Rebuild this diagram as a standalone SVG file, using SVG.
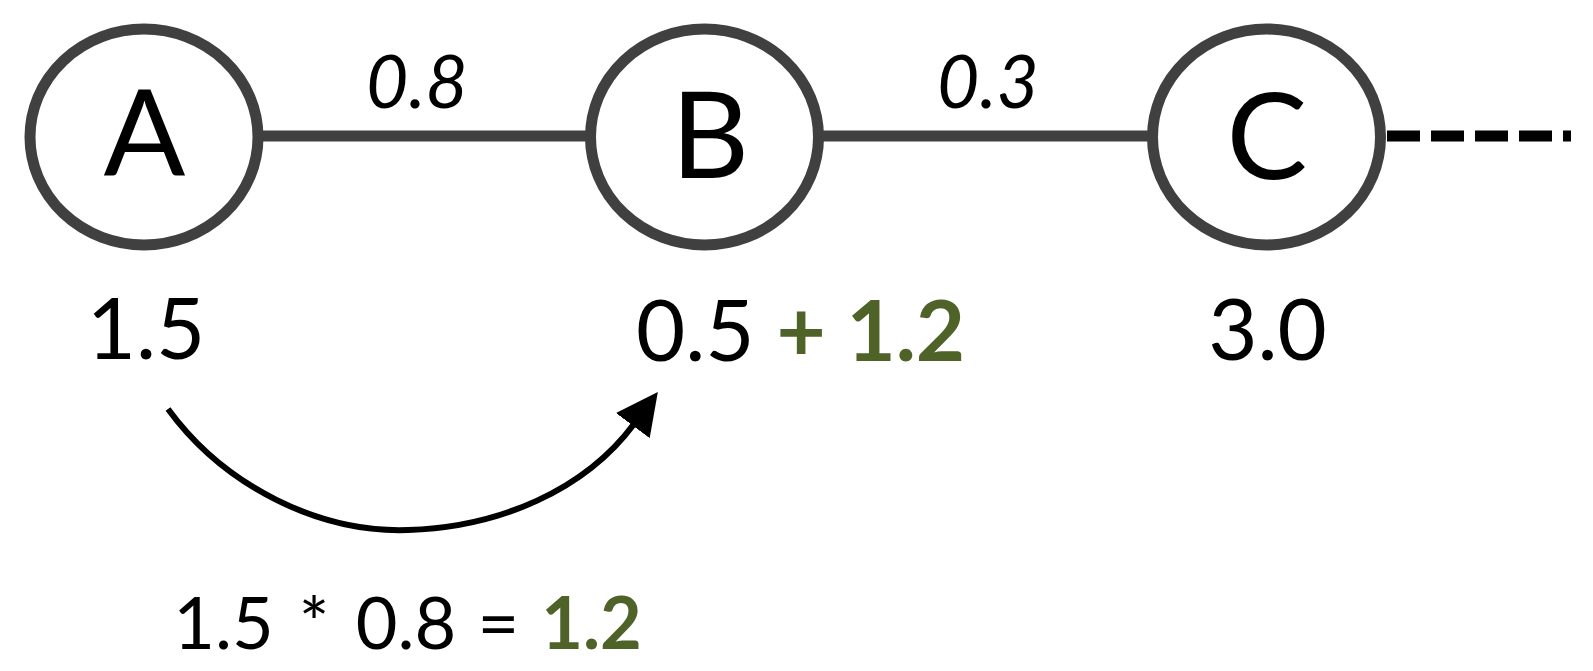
<svg xmlns="http://www.w3.org/2000/svg" width="1593" height="671" viewBox="0 0 1593 671">
<defs>
<style>
.node{fill:#ffffff;stroke:#404040;stroke-width:11}
.edge{stroke:#404040;stroke-width:11;fill:none}
.t{font-family:Lato,"Open Sans",sans-serif;fill:#000000}
.lbl{font-size:121px;text-anchor:middle}
.num{font-size:85px}
.w{font-size:73px;font-style:italic;text-anchor:middle}
.g{fill:#4F6228;font-weight:bold}
</style>
<marker id="ah" viewBox="0 0 42 42" refX="2" refY="21" markerWidth="42" markerHeight="42" markerUnits="userSpaceOnUse" orient="auto">
<path d="M0,0 L42,21 L0,42 z" fill="#000"/>
</marker>
</defs>
<rect width="1593" height="671" fill="#ffffff"/>
<g id="connectors">
<line class="edge" x1="262" y1="136" x2="587" y2="136"/>
<line class="edge" x1="822" y1="136" x2="1148" y2="136"/>
<line x1="1387" y1="136" x2="1571" y2="136" stroke="#000" stroke-width="11" stroke-dasharray="33 11"/>
<path d="M168,409 C225,487 320,533 408,530 C500,527 585,490 634,424" fill="none" stroke="#000" stroke-width="6" marker-end="url(#ah)"/>
</g>
<g id="node-A">
<ellipse class="node" cx="144" cy="137" rx="114" ry="108"/>
<text class="t lbl" x="144.5" y="176">A</text>
</g>
<g id="node-B">
<ellipse class="node" cx="704.5" cy="137" rx="114" ry="108"/>
<text class="t lbl" x="710" y="178">B</text>
</g>
<g id="node-C">
<ellipse class="node" cx="1266.5" cy="137" rx="114" ry="108"/>
<text class="t lbl" x="1267" y="179">C</text>
</g>
<g id="labels">
<text class="t w" x="417" y="108">0.8</text>
<text class="t w" x="988" y="108">0.3</text>
<text class="t num" x="146" y="359" text-anchor="middle">1.5</text>
<text class="t num" x="636" y="361">0.5 <tspan class="g">+ 1.2</tspan></text>
<text class="t num" x="1267.5" y="360" text-anchor="middle">3.0</text>
<text class="t" y="649" font-size="72"><tspan x="223.5" text-anchor="middle">1.5</tspan><tspan x="314" text-anchor="middle">*</tspan><tspan x="406" text-anchor="middle">0.8</tspan><tspan x="498.5" text-anchor="middle">=</tspan><tspan class="g" x="591.5" text-anchor="middle">1.2</tspan></text>
</g>
</svg>
